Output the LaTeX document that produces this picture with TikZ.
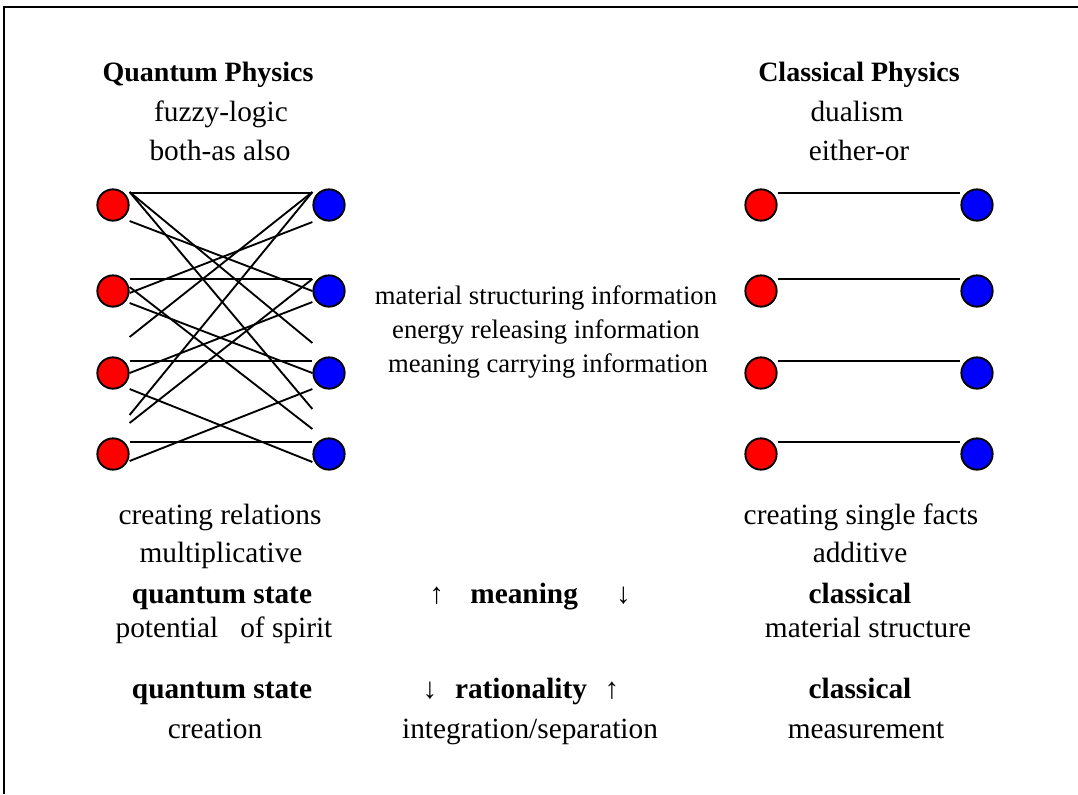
\documentclass[tikz,border=0pt]{standalone}
\usepackage{fontspec}
\setmainfont{Liberation Serif}
\usepackage{tikz}
\usetikzlibrary{calc}

\begin{document}
\begin{tikzpicture}[
    x=0.75pt, y=-0.75pt,
    txt/.style={anchor=base, inner sep=0pt, font=\fontsize{22}{30}\selectfont},
    hdr/.style={txt, font=\fontsize{22}{30}\selectfont\bfseries},
    ttl/.style={txt, font=\fontsize{21}{30}\selectfont\bfseries},
    info/.style={txt, font=\fontsize{20}{30}\selectfont},
    red dot/.style={circle, draw=black, line width=1.4pt, fill=red, minimum size=23.5pt, inner sep=0pt},
    blue dot/.style={circle, draw=black, line width=1.4pt, fill=blue, minimum size=23.5pt, inner sep=0pt},
    link/.style={line width=1.4pt, draw=black}
]
    \useasboundingbox (0,0) rectangle (1078,794);
    % frame
    \draw [line width=1.6pt] (4,794) -- (4,7) -- (1078,7);

    % dots, quantum (left) and classical (right)
    \foreach \i/\y in {1/205, 2/291, 3/373, 4/454} {
        \node [red dot] (qr\i) at (113,\y) {};
        \node [blue dot] (qb\i) at (329,\y) {};
        \node [red dot] (cr\i) at (761,\y) {};
        \node [blue dot] (cb\i) at (977,\y) {};
        \draw [link] ($(qr\i.east)+(0,-12)$) -- ($(qb\i.west)+(0,-12)$);
        \draw [link] ($(cr\i.east)+(0,-12)$) -- ($(cb\i.west)+(0,-12)$);
    }

    % crossing relations
    \foreach \a/\da/\b/\db in {1/-13/3/-30, 1/-13/4/-45, 1/16/2/0, 2/-4/4/-25, 2/12/3/0, 3/16/4/8,
                               3/-36/1/-13, 4/-39/1/-13, 2/2/1/17, 4/-31/2/-12, 3/0/2/11, 4/7/3/16}
        \draw [link] ($(qr\a.east)+(0,\da)$) -- ($(qb\b.west)+(0,\db)$);

    % headings
    \node [ttl] (qtitle) at (208,81) {Quantum Physics};
    \node [txt] (qfuzzy) at (221,121) {fuzzy-logic};
    \node [txt] (qboth) at (220,160) {both-as also};
    \node [ttl] (ctitle) at (859,81) {Classical Physics};
    \node [txt] (cdual) at (857,121) {dualism};
    \node [txt] (ceither) at (859,160) {either-or};

    % information
    \node [info] (info1) at (546,304) {material structuring information};
    \node [info] (info2) at (546,338) {energy releasing information};
    \node [info] (info3) at (548,372) {meaning carrying information};

    % below the dots
    \node [txt] (qrel) at (220,524) {creating relations};
    \node [txt] (qmult) at (221,562) {multiplicative};
    \node [txt] (cfacts) at (861,524) {creating single facts};
    \node [txt] (cadd) at (860,562) {additive};

    \node [hdr] (qstateA) at (222,603) {quantum state};
    \node [txt] (qpot) at (224,637) {potential\ \ \ of spirit};
    \node [txt] (meaning) at (530,603) {↑\hspace{0.9em}\textbf{meaning}\hspace{1.3em}↓};
    \node [hdr] (cstateA) at (860,603) {classical};
    \node [txt] (cmat) at (868,637) {material structure};

    \node [hdr] (qstateB) at (222,698) {quantum state};
    \node [txt] (qcreate) at (215,738) {creation};
    \node [txt] (ration) at (521,698) {↓\hspace{0.6em}\textbf{rationality}\hspace{0.6em}↑};
    \node [txt] (integr) at (530,738) {integration/separation};
    \node [hdr] (cstateB) at (860,698) {classical};
    \node [txt] (cmeas) at (866,738) {measurement};
\end{tikzpicture}
\end{document}
